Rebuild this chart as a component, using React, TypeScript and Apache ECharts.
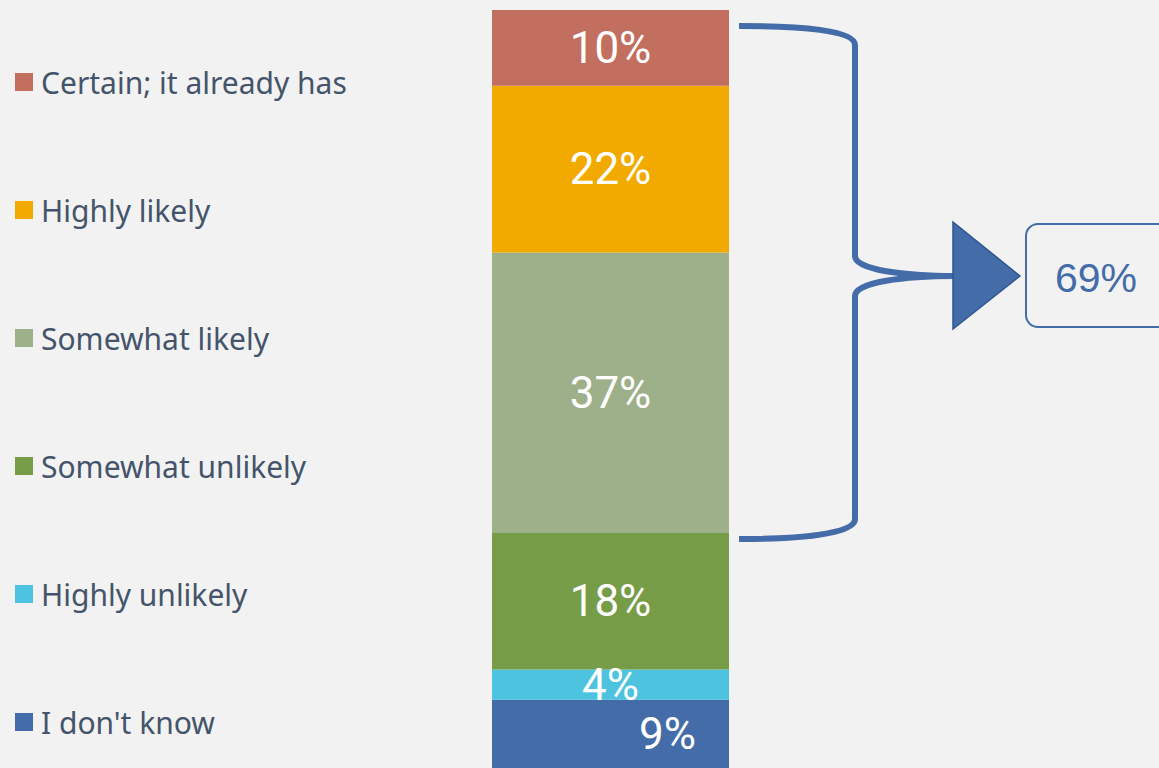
import React, { useEffect, useRef } from "react";
import * as echarts from "echarts";

const categories = ["Total"];
const seriesNames = [
  "I don't know",
  "Highly unlikely",
  "Somewhat unlikely",
  "Somewhat likely",
  "Highly likely",
  "Certain; it already has",
];
const seriesValues = [9, 4, 18, 37, 22, 10];
const seriesColors = ["#436ca8", "#4dc3df", "#779c48", "#9db08a", "#f2aa00", "#c36f60"];
const legendOrder = [
  "Certain; it already has",
  "Highly likely",
  "Somewhat likely",
  "Somewhat unlikely",
  "Highly unlikely",
  "I don't know",
];
const summaryLabel = "69%";

export default function App() {
  const ref = useRef<HTMLDivElement>(null);
  useEffect(() => {
    document.body.style.margin = "0";
    document.body.style.background = "#f2f2f2";
    const chart = echarts.init(ref.current!, null, { renderer: "svg" });
    const blue = "#436ca8";
    const lw = 6;
    chart.setOption({
      animation: false,
      backgroundColor: "#f2f2f2",
      grid: { left: 492, width: 237, top: 10, height: 760, containLabel: false },
      xAxis: { type: "category", data: categories, show: false },
      yAxis: { type: "value", min: 0, max: 100, show: false },
      legend: {
        orient: "vertical",
        left: 15,
        top: 67,
        height: 720,
        padding: 0,
        itemWidth: 18,
        itemHeight: 18,
        itemGap: 98,
        icon: "rect",
        data: legendOrder,
        textStyle: {
          color: "#44546a",
          fontSize: 30,
          fontFamily: "Noto Sans",
          lineHeight: 28,
          padding: [0, 0, 0, 3],
        },
      },
      series: seriesNames.map((name, i) => ({
        name,
        type: "bar",
        stack: "total",
        barWidth: "100%",
        data: [seriesValues[i]],
        itemStyle: { color: seriesColors[i] },
        label: {
          show: true,
          position: "inside",
          color: "#ffffff",
          fontSize: 44,
          fontFamily: "Roboto",
          formatter: "{c}%",
          offset: i === 0 ? [57, 0] : [0, 0],
        },
      })),
      graphic: [
        {
          type: "bezierCurve",
          shape: { x1: 739, y1: 26, cpx1: 800, cpy1: 26, cpx2: 855, cpy2: 30, x2: 855, y2: 45 },
          style: { stroke: blue, lineWidth: lw, fill: "none" },
        },
        {
          type: "line",
          shape: { x1: 855, y1: 45, x2: 855, y2: 256 },
          style: { stroke: blue, lineWidth: lw },
        },
        {
          type: "bezierCurve",
          shape: { x1: 855, y1: 256, cpx1: 855, cpy1: 270, cpx2: 905, cpy2: 276, x2: 955, y2: 276 },
          style: { stroke: blue, lineWidth: lw, fill: "none" },
        },
        {
          type: "bezierCurve",
          shape: { x1: 955, y1: 276, cpx1: 905, cpy1: 276, cpx2: 855, cpy2: 282, x2: 855, y2: 296 },
          style: { stroke: blue, lineWidth: lw, fill: "none" },
        },
        {
          type: "line",
          shape: { x1: 855, y1: 296, x2: 855, y2: 519 },
          style: { stroke: blue, lineWidth: lw },
        },
        {
          type: "bezierCurve",
          shape: { x1: 855, y1: 519, cpx1: 855, cpy1: 534, cpx2: 800, cpy2: 539, x2: 739, y2: 539 },
          style: { stroke: blue, lineWidth: lw, fill: "none" },
        },
        {
          type: "polygon",
          shape: { points: [[953, 222], [1020, 276], [953, 329]] },
          style: { fill: blue, stroke: "#2f5590", lineWidth: 1.5 },
        },
        {
          type: "rect",
          shape: { x: 1026, y: 224, width: 150, height: 103, r: 12 },
          style: { fill: "#f2f2f2", stroke: blue, lineWidth: 2 },
        },
        {
          type: "text",
          x: 1096,
          y: 278,
          style: {
            text: summaryLabel,
            fill: blue,
            fontSize: 41,
            fontFamily: "Liberation Sans",
            align: "center",
            verticalAlign: "middle",
          },
        },
      ],
    });
    return () => chart.dispose();
  }, []);
  return <div ref={ref} style={{ width: 1159, height: 768 }} />;
}
